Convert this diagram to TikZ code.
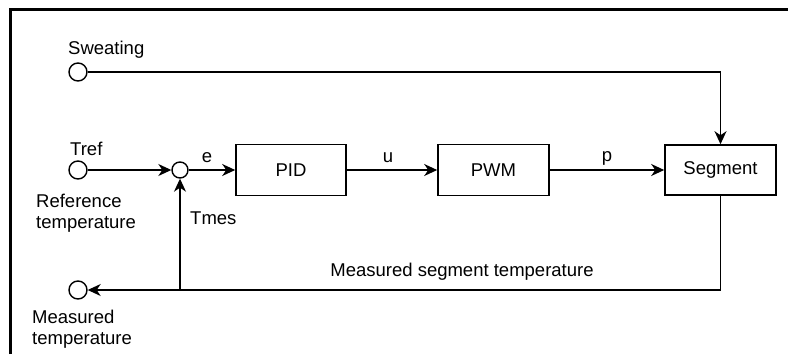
\documentclass[tikz,border=0pt]{standalone}
\usepackage{fontspec}
\setmainfont{Liberation Sans}
\usetikzlibrary{arrows.meta}
\begin{document}
\begin{tikzpicture}[x=1pt,y=-1pt,
  conn/.style={line width=1.4pt,-{Stealth[length=13pt,width=12pt,inset=4pt]}},
  port/.style={circle,draw,line width=1.4pt,minimum size=18pt,inner sep=0pt},
  sumpt/.style={circle,draw,line width=1.4pt,minimum size=16pt,inner sep=0pt},
  blockbox/.style={draw,line width=1.6pt,inner sep=0pt},
  lbl/.style={inner sep=0pt,font=\fontsize{18.5}{21}\selectfont}
]
\useasboundingbox (0,0) rectangle (788,354);
\draw[line width=3pt] (10,354) -- (10,9) -- (788,9);
% ports
\node[port] (sw) at (78,72) {};
\node[port] (tref) at (78,170) {};
\node[port] (out) at (78,290) {};
\node[sumpt] (sum) at (180,170) {};
% blocks
\node[blockbox,lbl,minimum width=110pt,minimum height=51pt] (pid) at (291,170) {PID};
\node[blockbox,lbl,minimum width=111pt,minimum height=51pt] (pwm) at (493.5,170) {PWM};
\node[blockbox,lbl,minimum width=111pt,minimum height=50pt] (seg) at (720.5,170) {Segment};
% labels
\node[lbl,anchor=west] (lsw) at (68,50) {Sweating};
\node[lbl,anchor=west] (ltref) at (70,149) {Tref};
\node[lbl,anchor=west,align=left] (lref) at (36,213) {Reference\\temperature};
\node[lbl,anchor=west,align=left] (lmeas) at (32,329) {Measured\\temperature};
\node[lbl] (le) at (207,158) {e};
\node[lbl] (lu) at (388,158) {u};
\node[lbl] (lp) at (607,158) {p};
\node[lbl,anchor=west] (ltmes) at (190,218) {Tmes};
\node[lbl] (lmst) at (462,272) {Measured segment temperature};
% connectors
\coordinate (swc) at (seg.north |- sw);
\coordinate (segb) at (seg.south |- out);
\coordinate (j) at (sum |- out);
\draw[conn] (sw.east) -- (swc) -- (seg.north);
\draw[conn] (tref.east) -- (sum.west);
\draw[conn] (sum.east) -- (pid.west);
\draw[conn] (pid.east) -- (pwm.west);
\draw[conn] (pwm.east) -- (seg.west);
\draw[conn] (seg.south) -- (segb) -- (out.east);
\draw[conn] (j) -- (sum.south);
\end{tikzpicture}
\end{document}
